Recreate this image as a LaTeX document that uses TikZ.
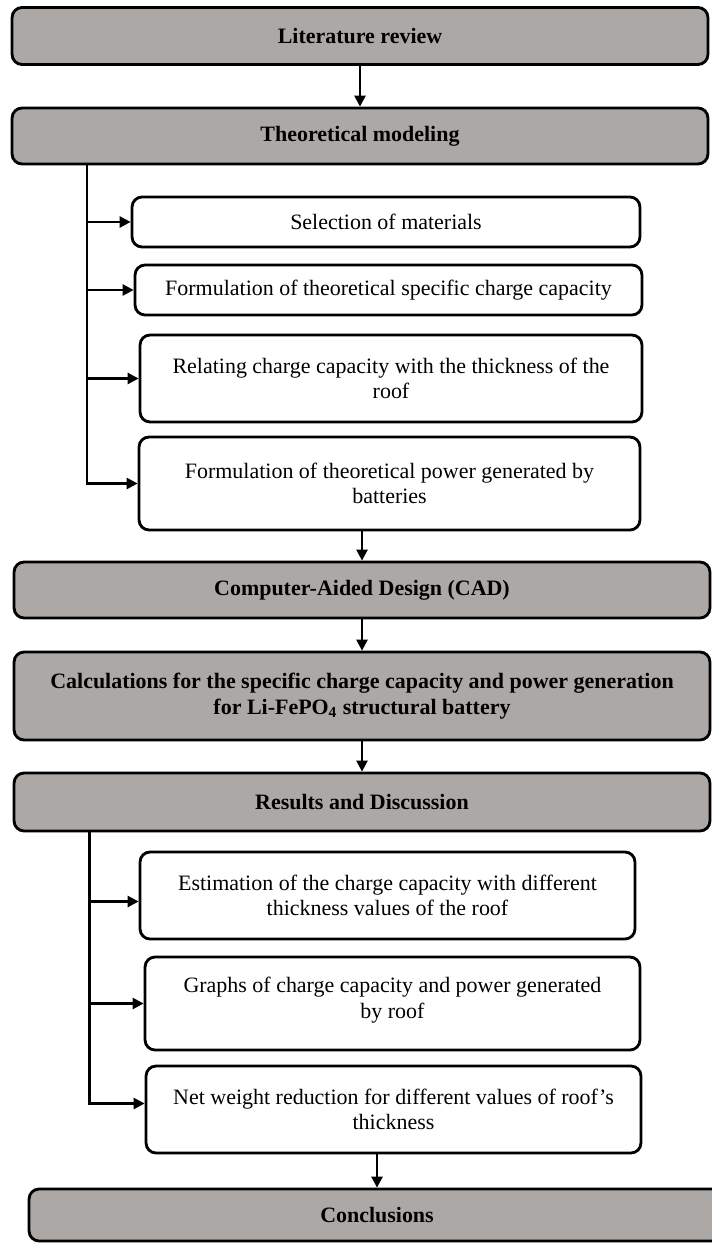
\documentclass[tikz,border=0pt]{standalone}
\usepackage{fontspec}
\setmainfont{Liberation Serif}
\usepackage{tikz}
\usetikzlibrary{shapes,arrows,arrows.meta}
\definecolor{boxgray}{RGB}{172,168,166}
\tikzstyle{arrow} = [line width=1.4pt,-{Triangle[length=0.22cm,width=0.22cm]}]
\tikzstyle{stage} = [draw,line width=1.6pt,rounded corners=0.2cm,fill=boxgray,align=center,
  minimum width=13.92cm,inner sep=0pt,font=\fontsize{12.5}{14.4}\selectfont\bfseries]
\tikzstyle{task} = [draw,line width=1.6pt,rounded corners=0.2cm,fill=white,align=center,
  inner sep=0pt,font=\fontsize{12.5}{14.4}\selectfont]

\begin{document}
\begin{tikzpicture}[x=0.02cm,y=-0.02cm]
  \useasboundingbox (0,0) rectangle (711,1243);
  % main stages
  \node[stage,minimum height=1.14cm] (lit) at (360,36) {Literature review};
  \node[stage,minimum height=1.12cm] (theo) at (360,136) {Theoretical modeling};
  \node[stage,minimum height=1.12cm] (cad) at (362,590) {Computer-Aided Design (CAD)};
  \node[stage,minimum height=1.76cm] (calc) at (362,696)
    {Calculations for the specific charge capacity and power generation\\
     for Li-FePO\textsubscript{4} structural battery};
  \node[stage,minimum height=1.16cm] (res) at (362,802) {Results and Discussion};
  \node[stage,minimum height=1.04cm] (concl) at (377,1215) {Conclusions};
  % modeling tasks
  \node[task,minimum width=10.16cm,minimum height=1cm] (sel) at (386,222) {Selection of materials};
  \node[task,minimum width=10.14cm,minimum height=1cm] (spec) at (388.5,290)
    {Formulation of theoretical specific charge capacity};
  \node[task,minimum width=10.04cm,minimum height=1.74cm] (rel) at (391,378.5)
    {Relating charge capacity with the thickness of the\\roof};
  \node[task,minimum width=10.02cm,minimum height=1.86cm] (pow) at (389.5,483.5)
    {Formulation of theoretical power generated by\\batteries};
  % result tasks
  \node[task,minimum width=9.9cm,minimum height=1.74cm] (est) at (387.5,895.5)
    {Estimation of the charge capacity with different\\thickness values of the roof};
  \node[task,minimum width=9.9cm,minimum height=1.86cm] (graph) at (392.5,1003.5)
    {Graphs of charge capacity and power generated\\by roof\\[-8pt]};
  \node[task,minimum width=9.9cm,minimum height=1.74cm] (net) at (393.5,1109.5)
    {Net weight reduction for different values of roof's\\thickness};
  \coordinate (sp1) at (87,136);
  \coordinate (sp2) at (89.5,802);

  \draw[arrow] (lit) -- (theo);
  \foreach \n in {sel,spec,rel,pow}
    \draw[arrow] (sp1 |- theo.south) |- (\n.west);
  \draw[arrow] (pow.south -| cad) -- (cad);
  \draw[arrow] (cad) -- (calc);
  \draw[arrow] (calc) -- (res);
  \draw[arrow] (sp2 |- res.south) |- ([yshift=-0.12cm]est.west);
  \draw[arrow] (sp2 |- res.south) |- (graph.west);
  \draw[arrow] (sp2 |- res.south) |- ([yshift=0.12cm]net.west);
  \draw[arrow] (net.south -| concl) -- (concl);
\end{tikzpicture}
\end{document}
